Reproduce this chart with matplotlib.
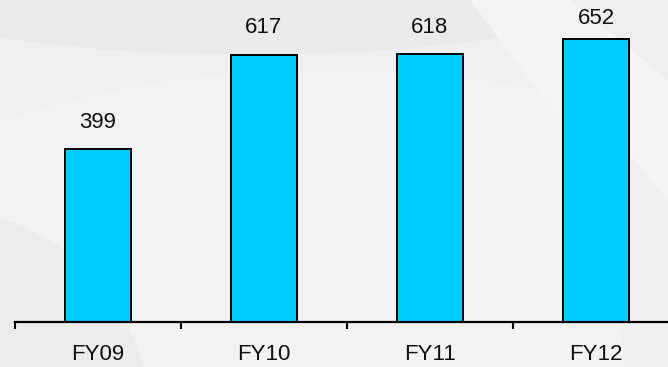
import numpy as np
import matplotlib
matplotlib.use("Agg")
import matplotlib.pyplot as plt
from matplotlib.patches import Polygon, Ellipse

categories = ["FY09", "FY10", "FY11", "FY12"]
values = [399, 617, 618, 652]

W, H, DPI = 668, 367, 100
fig = plt.figure(figsize=(W / DPI, H / DPI), dpi=DPI)
fig.patch.set_facecolor("#f0f0f0")

# soft background swirls
bg = fig.add_axes([0, 0, 1, 1], zorder=0)
bg.set_xlim(0, W)
bg.set_ylim(H, 0)
bg.axis("off")
bg.add_patch(Ellipse((250, -170), 1300, 450, color="#eaeaea", lw=0))
bg.add_patch(Ellipse((330, 330), 1100, 520, color="#f2f2f2", lw=0))
bg.add_patch(Polygon([[470, 0], [668, 0], [668, 250], [560, 120]], color="#f4f4f4", lw=0))
bg.add_patch(Polygon([[570, 0], [668, 0], [668, 80]], color="#eeeeee", lw=0))
bg.add_patch(Ellipse((-60, 420), 420, 420, color="#ececec", lw=0))
bg.add_patch(Polygon([[600, 120], [668, 200], [668, 367], [625, 367]], color="#efefef", lw=0))

# plotting area: baseline at 322 px, category step ~166 px starting at x=15
left, base = 15, 322
step = 166
ax = fig.add_axes([left / W, (H - base) / H, 4 * step / W, base / H], zorder=1)
ax.patch.set_alpha(0)
scale = 0.4335  # px per unit
ytop = base / scale
ax.set_xlim(-0.5, 3.5)
ax.set_ylim(0, ytop)

x = np.arange(len(categories))
ax.bar(x, values, width=0.4, color="#00ccff", edgecolor="black", linewidth=1.4, zorder=2)

for side in ("top", "right", "left"):
    ax.spines[side].set_visible(False)
ax.spines["bottom"].set_linewidth(1.6)
ax.spines["bottom"].set_color("black")

ax.set_yticks([])
ax.set_xticks(np.arange(-0.5, 4, 1.0))
ax.set_xticklabels([])
ax.tick_params(axis="x", which="major", direction="out", length=5, width=1.5, color="black")

font = dict(family=["Liberation Sans", "DejaVu Sans"], size=16, color="#111111")

for xi, cat in zip(x, categories):
    ax.annotate(cat, xy=(xi, 0), xytext=(0, -32 * 72 / DPI), textcoords="offset points",
                ha="center", va="center", **font)

for xi, v in zip(x, values):
    top_px = (ytop - v) / ytop * base
    gap = min(27, top_px - 18)
    ax.annotate(f"{v}", xy=(xi, v), xytext=(0, gap * 72 / DPI), textcoords="offset points",
                ha="center", va="center", **font)

fig.savefig("out.png", dpi=DPI, facecolor=fig.get_facecolor())
